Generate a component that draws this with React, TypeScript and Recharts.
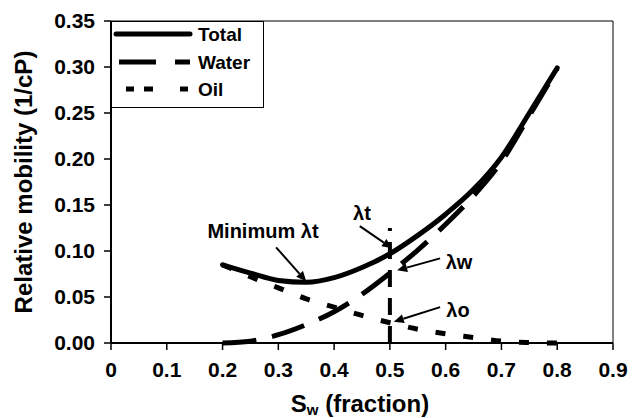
import React from 'react';
import {
  LineChart, Line, XAxis, YAxis, ReferenceArea, ReferenceLine, ReferenceDot,
} from 'recharts';

const sw = [0.2, 0.25, 0.3, 0.35, 0.4, 0.45, 0.5, 0.55, 0.6, 0.65, 0.7, 0.75, 0.8];
const totalMob = [0.085, 0.076, 0.068, 0.066, 0.071, 0.082, 0.097, 0.117, 0.140, 0.167, 0.202, 0.250, 0.299];
const waterMob = [0.0, 0.002, 0.009, 0.020, 0.034, 0.053, 0.076, 0.101, 0.129, 0.160, 0.197, 0.247, 0.298];
const oilMob = [0.085, 0.072, 0.060, 0.048, 0.039, 0.030, 0.022, 0.015, 0.010, 0.006, 0.002, 0.0005, 0.0];

const xTicks = [0, 0.1, 0.2, 0.3, 0.4, 0.5, 0.6, 0.7, 0.8, 0.9];
const yTicks = [0, 0.05, 0.1, 0.15, 0.2, 0.25, 0.3, 0.35];

const verticalMarker = [{ x: 0.5, y: 0 }, { x: 0.5, y: 0.125 }];

const arrows = [
  { from: { x: 0.296, y: 0.104 }, to: { x: 0.350, y: 0.067 } },
  { from: { x: 0.446, y: 0.127 }, to: { x: 0.504, y: 0.103 } },
  { from: { x: 0.590, y: 0.092 }, to: { x: 0.513, y: 0.079 } },
  { from: { x: 0.590, y: 0.039 }, to: { x: 0.507, y: 0.023 } },
];

const notes = [
  { x: 0.2725, y: 0.1217, text: 'Minimum λt' },
  { x: 0.45, y: 0.1413, text: 'λt' },
  { x: 0.624, y: 0.088, text: 'λw' },
  { x: 0.622, y: 0.0359, text: 'λo' },
];

const data = sw.map((x, i) => ({ x, total: totalMob[i], water: waterMob[i], oil: oilMob[i] }));

const FONT = 'Liberation Sans, Arial, sans-serif';

const ArrowShape = (props: any) => {
  const { x1, y1, x2, y2 } = props;
  const dx = x2 - x1;
  const dy = y2 - y1;
  const len = Math.sqrt(dx * dx + dy * dy) || 1;
  const ux = dx / len;
  const uy = dy / len;
  const hl = 10;
  const hw = 4.5;
  const bx = x2 - ux * hl;
  const by = y2 - uy * hl;
  const p1 = `${bx - uy * hw},${by + ux * hw}`;
  const p2 = `${bx + uy * hw},${by - ux * hw}`;
  return (
    <g>
      <line x1={x1} y1={y1} x2={bx} y2={by} stroke="#000" strokeWidth={2} />
      <polygon points={`${x2},${y2} ${p1} ${p2}`} fill="#000" />
    </g>
  );
};

const NoteShape = (text: string) => (props: any) => (
  <text
    x={props.cx}
    y={props.cy}
    textAnchor="middle"
    dominantBaseline="central"
    fontFamily={FONT}
    fontWeight="bold"
    fontSize={20}
    fill="#000"
  >
    {text}
  </text>
);

const LegendBox = () => (
  <div style={{ position: 'absolute', left: 111, top: 21, width: 153, height: 87, border: '1px solid #000', boxSizing: 'border-box', background: '#fff' }}>
    <svg width={151} height={85} style={{ display: 'block' }}>
      <line x1={4} y1={12} x2={78} y2={12} stroke="#000" strokeWidth={5} strokeLinecap="round" />
      <text x={86} y={12} dominantBaseline="central" fontFamily={FONT} fontWeight="bold" fontSize={19}>Total</text>
      <line x1={7} y1={40} x2={78} y2={40} stroke="#000" strokeWidth={5} strokeDasharray="37 19 15 20" />
      <text x={86} y={40} dominantBaseline="central" fontFamily={FONT} fontWeight="bold" fontSize={19}>Water</text>
      <line x1={14} y1={67} x2={78} y2={67} stroke="#000" strokeWidth={5} strokeDasharray="8 10 9 27 8 40" />
      <text x={86} y={67} dominantBaseline="central" fontFamily={FONT} fontWeight="bold" fontSize={19}>Oil</text>
    </svg>
  </div>
);

const YLabel = (props: any) => {
  const vb = props.viewBox || {};
  const cy = vb.y + vb.height / 2;
  return (
    <text
      x={23}
      y={cy}
      transform={`rotate(-90, 23, ${cy})`}
      textAnchor="middle"
      dominantBaseline="central"
      fontFamily={FONT}
      fontWeight="bold"
      fontSize={24}
      fill="#000"
    >
      Relative mobility (1/cP)
    </text>
  );
};

const XLabel = (props: any) => {
  const vb = props.viewBox || {};
  const cx = vb.x + vb.width / 2;
  return (
    <text x={cx - 2} y={412} textAnchor="middle" fontFamily={FONT} fontWeight="bold" fontSize={24} fill="#000">
      S<tspan fontSize={15} dy={3}>w</tspan>
      <tspan dy={-3}> (fraction)</tspan>
    </text>
  );
};

export default function App() {
  return (
    <div style={{ position: 'absolute', left: 0, top: 0, width: 632, height: 418, background: '#fff' }}>
      <LineChart width={632} height={418} data={data} margin={{ top: 21, right: 19, left: 0, bottom: 25 }}>
        <ReferenceArea x1={0} x2={0.9} y1={0} y2={0.35} fill="none" stroke="#000" strokeWidth={1} />
        <XAxis
          dataKey="x"
          type="number"
          domain={[0, 0.9]}
          ticks={xTicks}
          tickFormatter={(v: number) => (v === 0 ? '0' : v.toFixed(1))}
          height={50}
          tickSize={7}
          tickMargin={12}
          axisLine={{ stroke: '#000', strokeWidth: 2 }}
          tickLine={{ stroke: '#000', strokeWidth: 1.5 }}
          tick={{ fill: '#000', fontFamily: FONT, fontWeight: 'bold', fontSize: 21 }}
          label={<XLabel />}
          interval={0}
        />
        <YAxis
          type="number"
          domain={[0, 0.35]}
          ticks={yTicks}
          tickFormatter={(v: number) => v.toFixed(2)}
          width={111}
          tickSize={7}
          tickMargin={9}
          axisLine={{ stroke: '#000', strokeWidth: 2 }}
          tickLine={{ stroke: '#000', strokeWidth: 1.5 }}
          tick={{ fill: '#000', fontFamily: FONT, fontWeight: 'bold', fontSize: 21 }}
          label={<YLabel />}
          interval={0}
        />
        <Line type="monotone" dataKey="oil" stroke="#000" strokeWidth={5} strokeDasharray="10 18" dot={false} isAnimationActive={false} />
        <Line type="monotone" dataKey="water" stroke="#000" strokeWidth={5} strokeDasharray="34 16" dot={false} isAnimationActive={false} />
        <Line type="monotone" dataKey="total" stroke="#000" strokeWidth={5} strokeLinecap="round" dot={false} isAnimationActive={false} />
        <ReferenceLine segment={verticalMarker} stroke="#000" strokeWidth={4} strokeDasharray="17 11" />
        {arrows.map((a, i) => (
          <ReferenceLine key={`a${i}`} segment={[a.from, a.to]} shape={ArrowShape} />
        ))}
        {notes.map((n, i) => (
          <ReferenceDot key={`n${i}`} x={n.x} y={n.y} r={0} shape={NoteShape(n.text)} />
        ))}
      </LineChart>
      <LegendBox />
    </div>
  );
}
